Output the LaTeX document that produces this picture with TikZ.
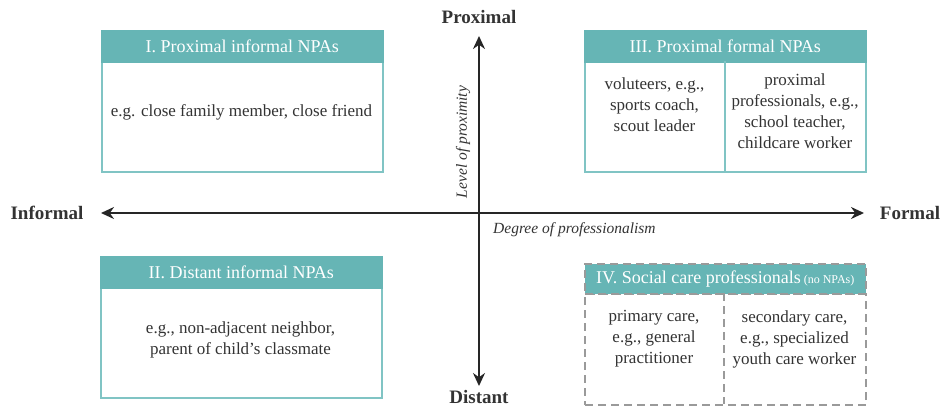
\documentclass[tikz,border=0pt]{standalone}
\usepackage{fontspec}
\setmainfont{Liberation Serif}
\usetikzlibrary{arrows.meta}
\definecolor{tealH}{HTML}{66B5B5}
\definecolor{tealB}{HTML}{80C4C4}
\definecolor{txtc}{HTML}{333333}
\definecolor{dgray}{HTML}{9A9A9A}
\begin{document}
\begin{tikzpicture}[x=1pt,y=-1pt,
  hdr/.style={anchor=north west, fill=tealH, draw=tealH, line width=1.5pt, text=white,
    minimum width=281pt, minimum height=31pt, inner sep=0pt, font=\fontsize{18}{20}\selectfont},
  bodybox/.style={anchor=north west, draw=tealB, line width=2pt,
    minimum width=281pt, minimum height=110pt, inner sep=0pt},
  dbody/.style={anchor=north west, draw=dgray, line width=2pt, dash pattern=on 8pt off 5pt,
    minimum width=281pt, minimum height=111pt, inner sep=0pt},
  txt/.style={text=txtc, font=\fontsize{17}{21}\selectfont, align=center, inner sep=0pt},
  axlab/.style={text=txtc, font=\fontsize{19}{21}\selectfont\bfseries, inner sep=0pt},
  axdesc/.style={text=txtc, font=\fontsize{15.5}{18}\selectfont\itshape, inner sep=0pt},
  axis/.style={draw=black!85, line width=2pt, {Stealth[length=13pt,width=12pt]}-{Stealth[length=13pt,width=12pt]}}
]
\useasboundingbox (0,0) rectangle (945,413);

% axes
\coordinate (L) at (101,213);
\coordinate (R) at (864,213);
\coordinate (T) at (479,36);
\coordinate (B) at (479,386);
\draw[axis] (L) -- (R);
\draw[axis] (T) -- (B);
\node[axlab] (prox) at (479,17) {Proximal};
\node[axlab] (dist) at (479,397) {Distant};
\node[axlab] (inf) at (47,213) {Informal};
\node[axlab] (form) at (910,213) {Formal};
\node[axdesc, rotate=90] (lop) at (463,142) {Level of proximity};
\node[axdesc, anchor=west] (dop) at (493,230) {Degree of professionalism};

% Box I
\node[bodybox] (b1) at (101,61) {};
\node[hdr] (h1) at (101,30) {I. Proximal informal NPAs};
\node[txt] (t1) at (241.5,112) {e.g. close family member, close friend};

% Box III
\node[bodybox] (b3) at (584,61) {};
\node[hdr] (h3) at (584,30) {III. Proximal formal NPAs};
\draw[tealB, line width=2pt] (725,61) -- (725,171);
\node[txt] (t3a) at (654.5,105) {voluteers, e.g.,\\sports coach,\\scout leader};
\node[txt] (t3b) at (795,111) {proximal\\professionals, e.g.,\\school teacher,\\childcare worker};

% Box II
\node[bodybox] (b2) at (100,287) {};
\node[hdr] (h2) at (100,256) {II. Distant informal NPAs};
\node[txt] (t2) at (240.5,340) {e.g., non-adjacent neighbor,\\parent of child's classmate};

% Box IV
\node[dbody] (b4) at (584,293) {};
\node[hdr, draw=dgray, dash pattern=on 8pt off 5pt, line width=1.5pt, minimum height=30pt] (h4) at (584,263)
  {IV. Social care professionals\,{\fontsize{12}{14}\selectfont (no NPAs)}};
\draw[dgray, line width=2pt, dash pattern=on 8pt off 5pt] (724,293) -- (724,404);
\node[txt] (t4a) at (654,339) {primary care,\\e.g., general\\practitioner};
\node[txt] (t4b) at (794.5,339) {secondary care,\\e.g., specialized\\youth care worker};
\end{tikzpicture}
\end{document}
